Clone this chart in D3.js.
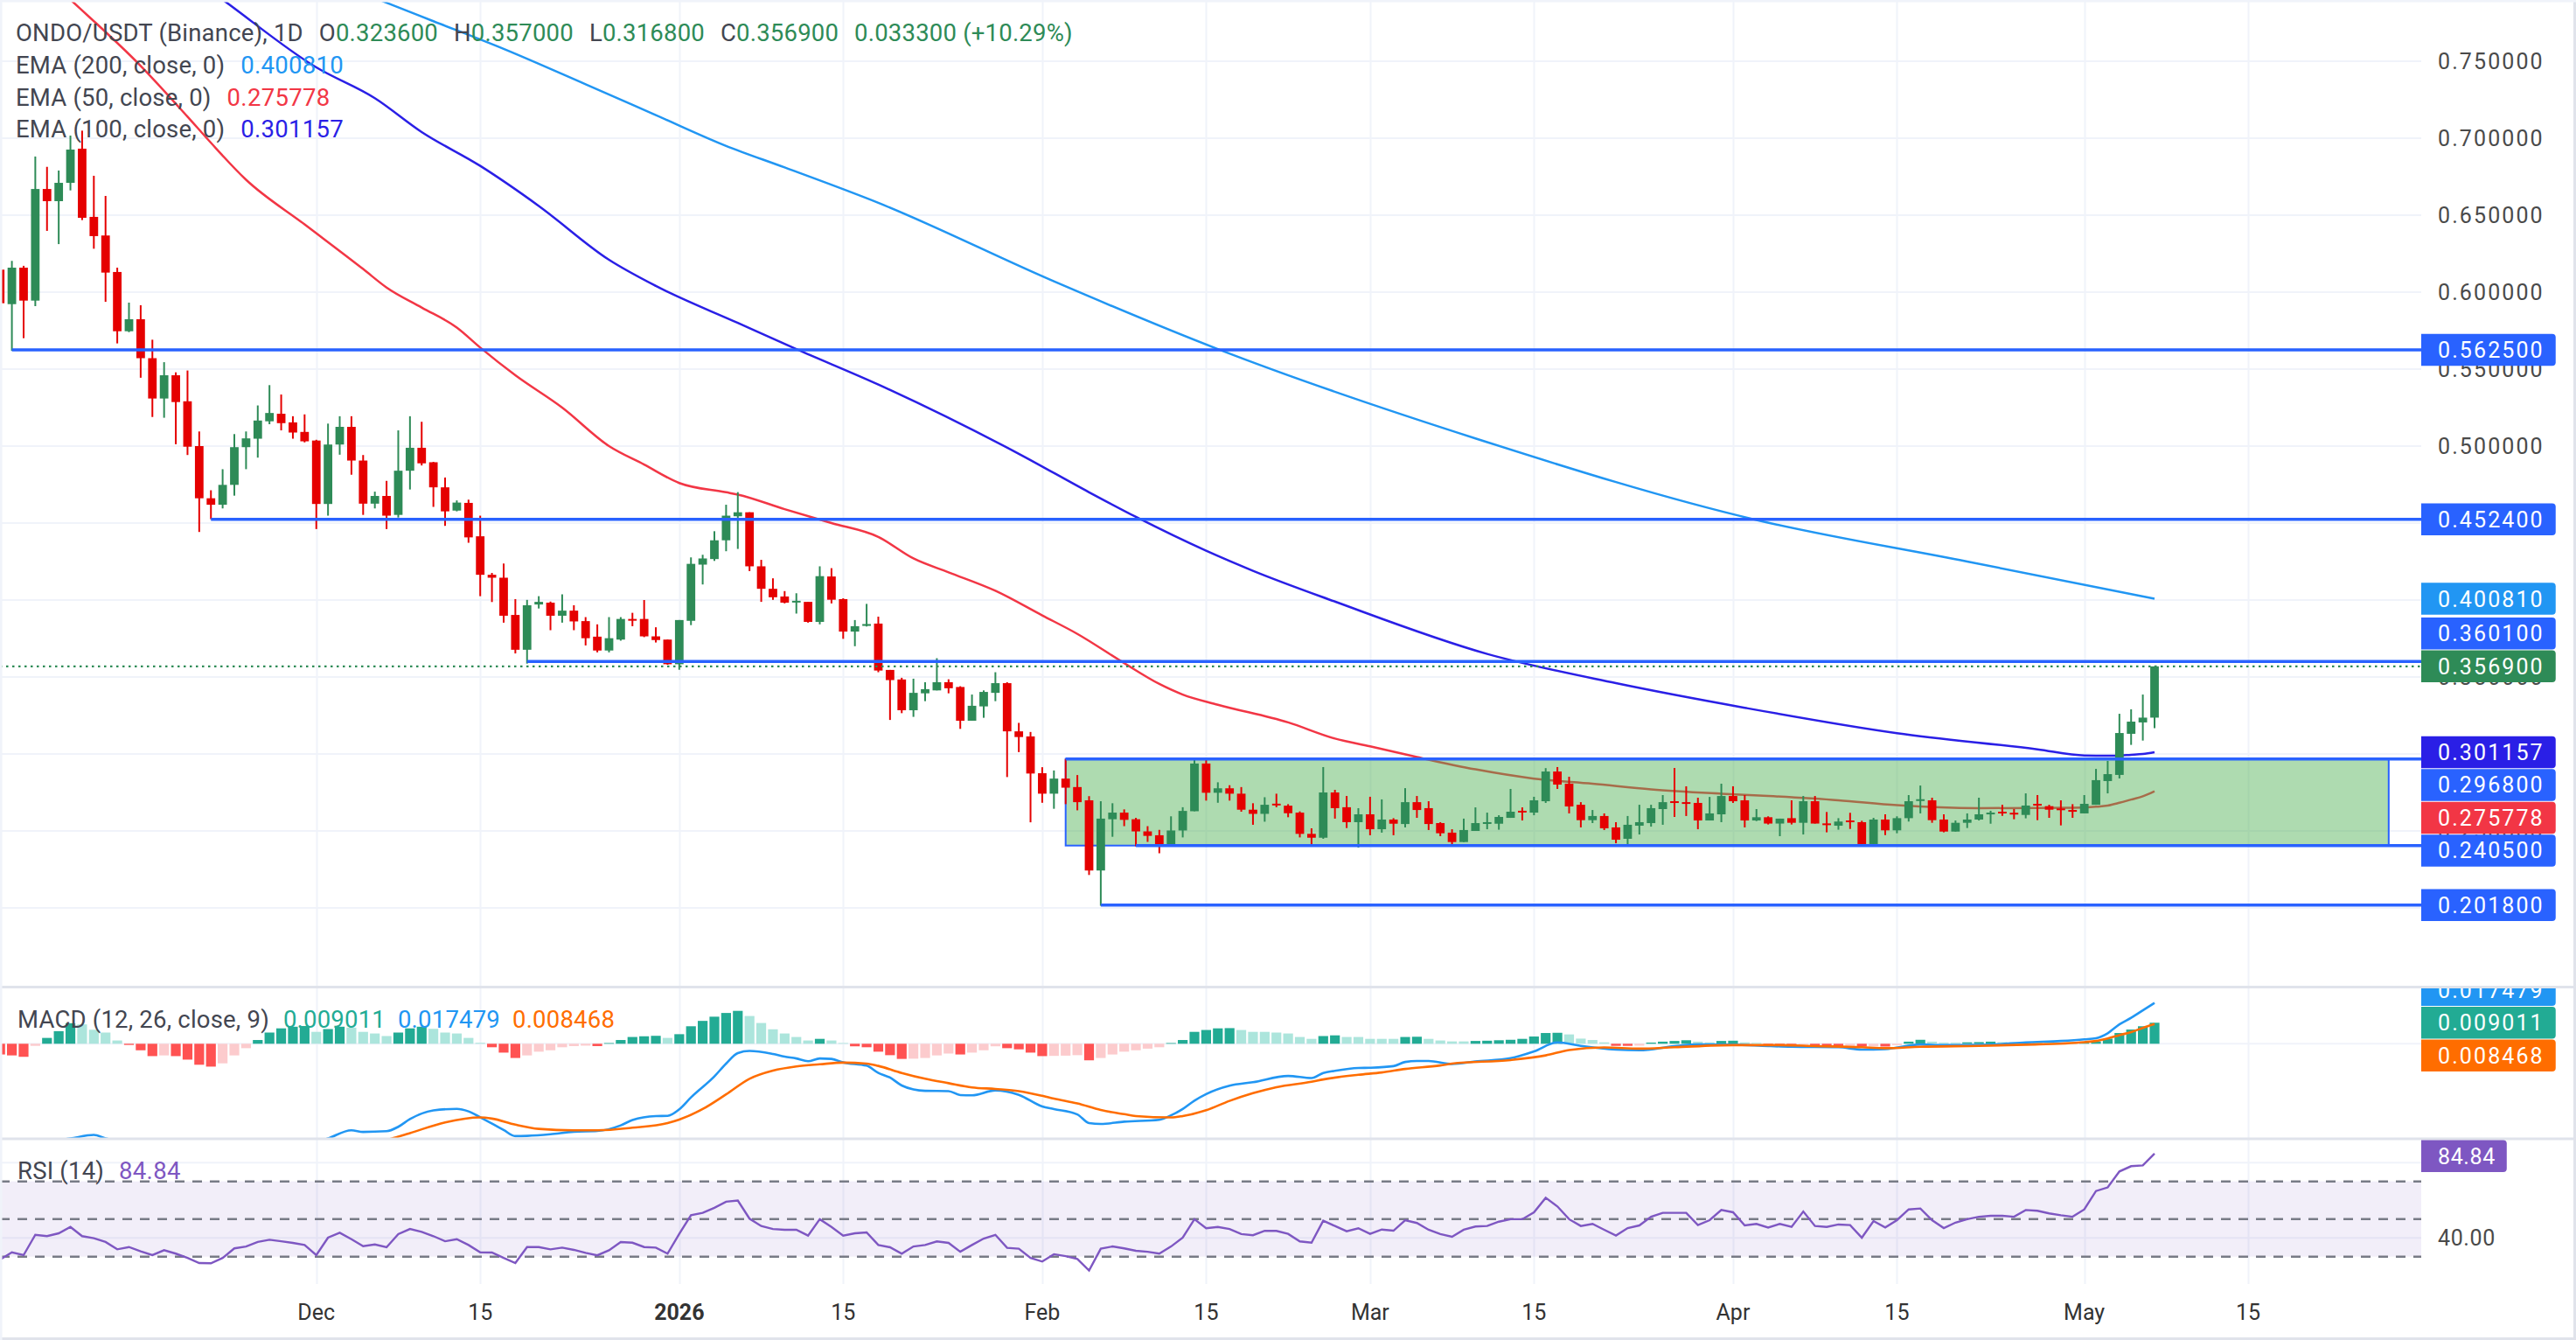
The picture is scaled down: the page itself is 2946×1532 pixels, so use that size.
<!DOCTYPE html>
<html>
<head>
<meta charset="utf-8">
<script src="https://cdn.jsdelivr.net/npm/d3@7"></script>
<style>
  body { margin: 0; background: #fff; }
  svg { display: block; }
  text { font-family: Roboto, "Open Sans", sans-serif; }
</style>
</head>
<body>
<svg id="chart"></svg>
<script>
// ---- data ----
const firstDay = "2025-11-04", lastDay = "2026-05-07";

const opens = [
 .6146,.5922,.6159,.5945,.6670,.6591,.6710,.6932,.6489,.6368, .6131,.5746,.5824,.5571,.5309,.5460,.5291,.5000,.4661,.4619,
 .4748,.4993,.5048,.5161,.5210,.5154,.5092,.5036,.4624,.5010, .5125,.4906,.4626,.4676,.4553,.4840,.4989,.4895,.4732,.4581,
 .4631,.4414,.4164,.4145,.3903,.3677,.3971,.3983,.3898,.3931, .3863,.3762,.3672,.3743,.3877,.3877,.3764,.3743,.3583,.3865,
 .4230,.4266,.4388,.4544,.4570,.4219,.4073,.4023,.3988,.3988, .3858,.4153,.4006,.3795,.3832,.3847,.3546,.3484,.3284,.3394,
 .3413,.3466,.3435,.3216,.3309,.3397,.3460,.3147,.3114,.2875, .2742,.2840,.2785,.2699,.2243,.2576,.2619,.2576,.2497,.2472,
 .2406,.2503,.2628,.2938,.2748,.2777,.2742,.2638,.2611,.2677, .2664,.2619,.2481,.2456,.2750,.2654,.2557,.2608,.2511,.2574,
 .2545,.2687,.2648,.2551,.2489,.2428,.2500,.2551,.2547,.2585, .2631,.2619,.2693,.2886,.2807,.2670,.2570,.2597,.2523,.2449,
 .2534,.2551,.2642,.2693,.2687,.2682,.2568,.2608,.2727,.2699, .2568,.2589,.2548,.2583,.2553,.2693,.2549,.2534,.2568,.2557,
 .2415,.2574,.2504,.2583,.2695,.2699,.2574,.2496,.2553,.2574, .2608,.2625,.2618,.2604,.2676,.2661,.2646,.2636,.2614,.2670,
 .2824,.2864,.3131,.3205,.3236];
const highs = [
 .6288,.6203,.6171,.6881,.6814,.6790,.7017,.7049,.6756,.6625, .6159,.5932,.5915,.5691,.5545,.5479,.5491,.5095,.4713,.4850,
 .5078,.5095,.5264,.5396,.5335,.5194,.5206,.5041,.5146,.5194, .5194,.4942,.4704,.4774,.5102,.5194,.5158,.4897,.4796,.4647,
 .4652,.4548,.4176,.4237,.4006,.4001,.4025,.3990,.4037,.3966, .3889,.3842,.3889,.3889,.3917,.4000,.3823,.3743,.3870,.4277,
 .4294,.4447,.4619,.4701,.4570,.4261,.4141,.4058,.4044,.3988, .4219,.4207,.4011,.3870,.3975,.3892,.3546,.3495,.3489,.3466,
 .3622,.3485,.3440,.3386,.3413,.3531,.3466,.3202,.3143,.2914, .2893,.2967,.2863,.2726,.2693,.2680,.2640,.2585,.2531,.2507,
 .2595,.2654,.2967,.2977,.2816,.2797,.2785,.2680,.2719,.2742, .2674,.2627,.2517,.2915,.2767,.2727,.2648,.2722,.2705,.2583,
 .2778,.2727,.2693,.2557,.2511,.2580,.2653,.2619,.2602,.2773, .2653,.2722,.2908,.2915,.2852,.2687,.2636,.2614,.2557,.2597,
 .2670,.2670,.2733,.2909,.2790,.2716,.2721,.2807,.2790,.2733, .2642,.2595,.2580,.2699,.2727,.2727,.2623,.2583,.2618,.2566,
 .2585,.2608,.2595,.2733,.2795,.2716,.2608,.2568,.2614,.2716, .2631,.2670,.2642,.2744,.2733,.2670,.2699,.2674,.2733,.2903,
 .2955,.3261,.3290,.3386,.3570];
const lows = [
 .5492,.5619,.5701,.5909,.6398,.6312,.6661,.6468,.6282,.5937, .5667,.5740,.5444,.5189,.5184,.5012,.4942,.4442,.4525,.4595,
 .4678,.4850,.4925,.5142,.5102,.5048,.5024,.4461,.4548,.4944, .4814,.4553,.4595,.4461,.4536,.4718,.4874,.4605,.4482,.4576,
 .4372,.4025,.3987,.3853,.3653,.3587,.3945,.3804,.3853,.3804, .3705,.3660,.3660,.3736,.3830,.3759,.3724,.3580,.3547,.3837,
 .4101,.4254,.4317,.4332,.4188,.3988,.4001,.3978,.3912,.3853, .3842,.3978,.3748,.3700,.3828,.3531,.3221,.3265,.3241,.3343,
 .3413,.3394,.3163,.3216,.3235,.3343,.2850,.3012,.2556,.2683, .2644,.2674,.2634,.2214,.2014,.2462,.2531,.2400,.2429,.2355,
 .2406,.2458,.2628,.2697,.2683,.2697,.2625,.2540,.2560,.2654, .2589,.2458,.2414,.2449,.2580,.2519,.2392,.2472,.2489,.2472,
 .2523,.2585,.2506,.2466,.2403,.2428,.2500,.2511,.2508,.2585, .2568,.2602,.2682,.2773,.2614,.2523,.2551,.2506,.2420,.2413,
 .2477,.2528,.2540,.2591,.2597,.2511,.2568,.2557,.2682,.2523, .2564,.2542,.2466,.2542,.2477,.2548,.2491,.2508,.2513,.2409,
 .2409,.2473,.2485,.2561,.2614,.2553,.2491,.2496,.2519,.2568, .2547,.2598,.2576,.2582,.2570,.2585,.2536,.2585,.2614,.2670,
 .2744,.2841,.3059,.3087,.3168];
const closes = [
 .5928,.6159,.5945,.6670,.6591,.6710,.6926,.6483,.6364,.6127, .5746,.5824,.5571,.5309,.5460,.5286,.4996,.4661,.4619,.4748,
 .4993,.5050,.5166,.5215,.5149,.5088,.5031,.4624,.5010,.5125, .4906,.4626,.4676,.4548,.4840,.4989,.4888,.4732,.4576,.4633,
 .4407,.4164,.4145,.3898,.3677,.3966,.3988,.3898,.3931,.3861, .3752,.3672,.3752,.3877,.3870,.3764,.3740,.3583,.3870,.4235,
 .4270,.4388,.4548,.4570,.4219,.4073,.4018,.3983,.3995,.3858, .4155,.4002,.3795,.3830,.3844,.3542,.3480,.3284,.3397,.3421,
 .3466,.3427,.3216,.3313,.3403,.3460,.3147,.3110,.2873,.2742, .2840,.2781,.2687,.2243,.2580,.2619,.2572,.2497,.2468,.2406,
 .2503,.2630,.2938,.2748,.2777,.2742,.2638,.2611,.2670,.2668, .2615,.2481,.2456,.2750,.2648,.2557,.2608,.2511,.2574,.2547,
 .2687,.2636,.2545,.2485,.2428,.2506,.2551,.2557,.2591,.2625, .2621,.2699,.2886,.2801,.2659,.2570,.2597,.2517,.2443,.2540,
 .2557,.2648,.2687,.2682,.2676,.2568,.2614,.2727,.2693,.2568, .2589,.2548,.2580,.2553,.2693,.2548,.2538,.2561,.2561,.2415,
 .2574,.2504,.2583,.2693,.2706,.2570,.2496,.2553,.2574,.2608, .2619,.2618,.2610,.2665,.2669,.2638,.2638,.2627,.2676,.2830,
 .2869,.3136,.3210,.3236,.3569];

// moving averages, read at sampled bars (bar number 1..185)
const ema200Bars = [28, 34, 38, 44, 51, 57, 63, 68, 76, 91, 105, 127, 151, 169, 185];
const ema200Vals = [0.807, 0.788, 0.776, 0.758, 0.735, 0.715, 0.695, 0.681, 0.658, 0.607, 0.563, 0.505, 0.452, 0.425, 0.40081];
const ema100Bars = [16, 20, 28, 33, 37, 42, 47, 53, 57, 64, 69, 76, 88, 94, 98, 104, 108, 115, 128, 139, 150, 163, 175, 179, 181, 183, 184, 185];
const ema100Vals = [0.812, 0.790, 0.746, 0.726, 0.704, 0.682, 0.656, 0.621, 0.604, 0.580, 0.563, 0.540, 0.495, 0.470, 0.454, 0.432, 0.419, 0.399, 0.365, 0.346, 0.330, 0.3135, 0.303, 0.2990, 0.2988, 0.2995, 0.3000, 0.301157];
const ema50Bars = [3, 7, 13, 17, 19, 22, 27, 32, 34, 37, 40, 42, 45, 49, 53, 56, 59, 63, 64, 68, 72, 76, 79, 82, 86, 90, 93, 97, 100, 102, 105, 111, 115, 118, 122, 127, 132, 137, 142, 148, 152, 158, 163, 170, 178, 180, 181, 182, 183, 184, 185];
const ema50Vals = [0.818, 0.790, 0.747, 0.714, 0.697, 0.673, 0.644, 0.615, 0.603, 0.590, 0.577, 0.564, 0.546, 0.525, 0.500, 0.488, 0.476, 0.470, 0.4685, 0.459, 0.450, 0.441, 0.427, 0.418, 0.406, 0.390, 0.378, 0.359, 0.3455, 0.3386, 0.332, 0.3205, 0.310, 0.305, 0.298, 0.290, 0.284, 0.2807, 0.277, 0.2742, 0.2727, 0.2699, 0.2667, 0.2648, 0.2650, 0.2657, 0.2665, 0.2683, 0.2704, 0.2725, 0.275778];

// MACD (12, 26, close, 9)
const histVals = [
 -0.0046,-0.0050,-0.0056,-0.0009,0.0025,0.0054,0.0088,0.0083,0.0060,0.0048, 0.0014,-0.0005,-0.0028,-0.0053,-0.0050,-0.0053,-0.0068,-0.0090,-0.0098,-0.0084,
 -0.0050,-0.0019,0.0016,0.0048,0.0066,0.0073,0.0076,0.0051,0.0063,0.0073, 0.0069,0.0051,0.0044,0.0033,0.0048,0.0066,0.0073,0.0064,0.0048,0.0044,
 0.0025,0.0004,-0.0015,-0.0038,-0.0061,-0.0050,-0.0034,-0.0028,-0.0015,-0.0010, -0.0008,-0.0010,0.0003,0.0016,0.0029,0.0032,0.0034,0.0025,0.0041,0.0075,
 0.0098,0.0116,0.0132,0.0141,0.0119,0.0089,0.0062,0.0044,0.0029,0.0014, 0.0021,0.0014,0.0003,-0.0011,-0.0015,-0.0034,-0.0049,-0.0065,-0.0064,-0.0061,
 -0.0050,-0.0042,-0.0046,-0.0038,-0.0028,-0.0011,-0.0019,-0.0024,-0.0038,-0.0053, -0.0052,-0.0051,-0.0049,-0.0071,-0.0061,-0.0046,-0.0034,-0.0028,-0.0021,-0.0015,
 0.0003,0.0016,0.0051,0.0059,0.0066,0.0067,0.0059,0.0051,0.0051,0.0048, 0.0044,0.0029,0.0021,0.0033,0.0036,0.0029,0.0029,0.0021,0.0021,0.0021,
 0.0029,0.0030,0.0021,0.0014,0.0010,0.0010,0.0012,0.0013,0.0015,0.0017, 0.0021,0.0031,0.0046,0.0047,0.0040,0.0022,0.0016,0.0006,-0.0009,-0.0009,
 -0.0008,0.0005,0.0009,0.0012,0.0015,0.0009,0.0006,0.0012,0.0013,0.0006, 0.0004,-0.0006,-0.0006,-0.0006,-0.0005,-0.0009,-0.0010,-0.0010,-0.0009,-0.0012,
 -0.0011,-0.0012,-0.0006,0.0009,0.0017,0.0009,0.0005,0.0005,0.0006,0.0007, 0.0009,0.0007,0.0006,0.0005,0.0005,0.0004,0.0004,0.0004,0.0006,0.0010,
 0.0022,0.0046,0.0061,0.0075,0.009011];
const macdBars = [1,5,7,9,10,12,20,27,29,31,32,34,35,36,38,40,41,42,44,45,46,48,50,52,54,55,57,58,59,60,62,63,64,65,67,68,69,70,71,72,73,75,76,77,78,79,80,82,83,84,86,88,90,91,93,94,95,97,100,101,102,103,104,106,108,111,113,114,115,117,118,120,121,122,123,125,127,130,132,134,136,139,141,144,146,149,152,154,158,160,162,165,167,171,174,177,179,180,181,182,183,184,185];
const macdVals = [-0.046,-0.042,-0.0406,-0.0391,-0.0406,-0.042,-0.052,-0.044,-0.0406,-0.0371,-0.0378,-0.0375,-0.0356,-0.0323,-0.0286,-0.0279,-0.0290,-0.0315,-0.0370,-0.0396,-0.0395,-0.0388,-0.0377,-0.0374,-0.0350,-0.0327,-0.0310,-0.0309,-0.0281,-0.0230,-0.0140,-0.0085,-0.0040,-0.0031,-0.0044,-0.0055,-0.0063,-0.0075,-0.0063,-0.0065,-0.0080,-0.0094,-0.0125,-0.0145,-0.0179,-0.0196,-0.0202,-0.0203,-0.0220,-0.0221,-0.0200,-0.0219,-0.0269,-0.0280,-0.0303,-0.0340,-0.0344,-0.0334,-0.0326,-0.0307,-0.0280,-0.0244,-0.0216,-0.0180,-0.0165,-0.0138,-0.0147,-0.0125,-0.0116,-0.0104,-0.0103,-0.0096,-0.0078,-0.0074,-0.0074,-0.0087,-0.0076,-0.0062,-0.0033,0.0006,-0.0009,-0.0025,-0.0028,-0.0010,-0.0003,-0.0004,-0.0010,-0.0013,-0.0015,-0.0025,-0.0023,-0.0003,-0.0006,-0.0004,0.0006,0.0012,0.0019,0.0024,0.0045,0.0083,0.0111,0.0143,0.017479];
const signalBars = [1,15,30,33,35,36,39,42,43,45,47,50,52,55,58,59,61,63,65,67,69,71,73,75,76,78,80,82,84,86,88,90,91,93,95,97,98,101,102,104,106,108,110,113,114,117,119,121,124,125,130,133,135,138,141,144,149,153,156,160,162,165,170,174,179,180,181,182,183,184,185];
const signalVals = [-0.047,-0.046,-0.044,-0.0425,-0.0398,-0.0383,-0.0337,-0.0316,-0.0321,-0.0347,-0.0365,-0.0371,-0.0371,-0.0360,-0.0340,-0.0325,-0.0280,-0.0217,-0.0150,-0.0115,-0.0097,-0.0088,-0.0081,-0.0085,-0.0095,-0.0125,-0.0150,-0.0169,-0.0187,-0.0194,-0.0203,-0.0223,-0.0235,-0.0256,-0.0284,-0.0302,-0.0310,-0.0316,-0.0310,-0.0285,-0.0245,-0.0212,-0.0186,-0.0163,-0.0153,-0.0133,-0.0123,-0.0108,-0.0093,-0.0085,-0.0070,-0.0050,-0.0027,-0.0016,-0.0021,-0.0015,-0.0006,-0.0006,-0.0010,-0.0015,-0.0019,-0.0013,-0.0009,-0.0004,0.0007,0.0012,0.0023,0.0037,0.0050,0.0068,0.008468];

// RSI (14)
const rsiVals = [
 28.5,32.3,30.8,41.6,40.9,42.4,45.8,40.9,39.8,37.8, 33.9,35.1,32.8,30.8,33.4,31.6,29.3,26.6,26.5,29.3,
 34.4,35.4,37.8,39.0,38.2,37.3,36.2,30.8,40.1,42.7, 39.3,35.6,36.5,35.0,42.0,44.7,43.2,40.9,38.2,39.3,
 36.2,32.3,32.2,29.3,26.6,35.1,35.1,33.9,34.8,33.6, 32.0,30.7,33.4,37.8,37.4,35.1,34.8,31.6,42.1,52.0,
 53.3,56.0,59.2,59.8,50.2,46.3,44.7,44.3,44.3,41.2, 49.9,45.8,41.2,42.4,42.9,36.2,35.0,31.6,35.4,36.2,
 38.1,37.3,32.6,36.2,39.6,41.6,34.7,34.2,29.3,27.4, 31.3,30.3,28.8,22.6,34.2,35.4,34.4,33.1,32.6,31.6,
 35.4,40.1,49.9,45.1,45.8,44.7,42.0,41.4,43.7,43.7, 42.1,38.1,37.4,49.1,46.3,43.5,45.1,42.1,44.4,43.8,
 49.4,47.9,44.3,42.0,40.6,44.3,46.0,46.3,48.6,49.9, 49.9,53.6,61.3,56.7,49.9,46.3,47.4,44.3,41.2,45.2,
 46.6,51.2,53.3,53.3,53.3,46.8,49.4,54.8,53.6,46.6, 47.4,45.5,47.4,45.8,54.0,46.3,45.8,47.1,46.8,40.1,
 48.9,45.5,49.4,55.1,55.6,49.4,45.2,48.1,49.9,51.2, 51.7,51.7,51.2,54.8,54.4,53.0,52.0,51.2,55.1,64.9,
 66.8,75.3,78.1,78.5,84.84];

// drawings
const levelPrices = [0.5625, 0.4524, 0.3601, 0.2968, 0.2405, 0.2018];
const levelStartBar = [2, 19, 46, 92, 98, 95];
const zoneTop = 0.2968, zoneBottom = 0.2405, zoneStartBar = 92, zoneEndDay = "2026-05-27";

const priceTicks = [0.20, 0.25, 0.30, 0.35, 0.40, 0.45, 0.50, 0.55, 0.60, 0.65, 0.70, 0.75];
const rsiTicks = [80, 40];
const timeTickDays = ["2025-11-03","2025-12-01","2025-12-15","2026-01-01","2026-01-15","2026-02-01","2026-02-15","2026-03-01","2026-03-15","2026-04-01","2026-04-15","2026-05-01","2026-05-15"];
const timeTickLabels = ["4","Dec","15","2026","15","Feb","15","Mar","15","Apr","15","May","15"];

// ---- layout ----
const W = 2946, H = 1532, plotRight = 2769;
const pricePane = [0, 1127], macdPane = [1130, 1301], rsiPane = [1303, 1468];
const up = "#2e8b57", down = "#e50000";
const gray = "#434651";

const svg = d3.select("#chart").attr("width", W).attr("height", H);
svg.append("rect").attr("width", W).attr("height", H).attr("fill", "#fff");

const parse = d3.utcParse("%Y-%m-%d");
const dates = d3.utcDay.range(parse(firstDay), d3.utcDay.offset(parse(lastDay), 1));
const bar = n => dates[n - 1];

const x = d3.scaleUtc().domain([dates[0], dates[dates.length - 1]]).range([0.2, 2464]);
const y = d3.scaleLinear().domain([0.2, 0.75]).range([1038, 70]);
const yM = d3.scaleLinear().domain([0, 0.009]).range([1193.3, 1169.3]);
const yR = d3.scaleLinear().domain([30, 70]).range([1436.7, 1350.7]);

const defs = svg.append("defs");
function clip(id, x0, y0, w, h) {
  defs.append("clipPath").attr("id", id).append("rect").attr("x", x0).attr("y", y0).attr("width", w).attr("height", h);
}
clip("cPrice", 0, pricePane[0], plotRight, pricePane[1] - pricePane[0]);
clip("cMacd", 0, macdPane[0], plotRight, macdPane[1] - macdPane[0]);
clip("cRsi", 0, rsiPane[0], plotRight, rsiPane[1] - rsiPane[0]);
clip("cMacdAxis", plotRight, macdPane[0], W - plotRight, macdPane[1] - macdPane[0]);

// grid
const grid = svg.append("g").attr("stroke", "#f0f3fa").attr("stroke-width", 2);
timeTickDays.forEach(d => {
  const xx = Math.round(x(parse(d))) + 0.5;
  grid.append("line").attr("x1", xx).attr("x2", xx).attr("y1", 0).attr("y2", rsiPane[1]);
});
priceTicks.forEach(p => grid.append("line").attr("x1", 0).attr("x2", plotRight).attr("y1", y(p)).attr("y2", y(p)));
grid.append("line").attr("x1", 0).attr("x2", plotRight).attr("y1", yM(0)).attr("y2", yM(0));
rsiTicks.forEach(v => grid.append("line").attr("x1", 0).attr("x2", plotRight).attr("y1", yR(v)).attr("y2", yR(v)));

// RSI band
svg.append("rect").attr("x", 0).attr("width", plotRight).attr("y", yR(70)).attr("height", yR(30) - yR(70))
  .attr("fill", "#7e57c2").attr("fill-opacity", 0.1);

// EMAs
const gPrice = svg.append("g").attr("clip-path", "url(#cPrice)");
function sampled(bars, vals) { return bars.map((b, i) => [bar(b), vals[i]]); }
const emaLine = d3.line().x(d => x(d[0])).y(d => y(d[1])).curve(d3.curveMonotoneX);
[[ema200Bars, ema200Vals, "#2196f3"], [ema100Bars, ema100Vals, "#2a1fe6"], [ema50Bars, ema50Vals, "#f23645"]]
  .forEach(([b, v, c]) => gPrice.append("path").attr("d", emaLine(sampled(b, v)))
    .attr("fill", "none").attr("stroke", c).attr("stroke-width", 2.5));

// zone
gPrice.append("rect")
  .attr("x", x(bar(zoneStartBar))).attr("width", x(parse(zoneEndDay)) - x(bar(zoneStartBar)))
  .attr("y", y(zoneTop)).attr("height", y(zoneBottom) - y(zoneTop))
  .attr("fill", "#4caf50").attr("fill-opacity", 0.45).attr("stroke", "#2962ff").attr("stroke-width", 2);

// candles
const candles = dates.map((d, i) => ({ d, o: opens[i], h: highs[i], l: lows[i], c: closes[i] }));
const bodyW = 9.8;
gPrice.append("g").selectAll("line").data(candles).join("line")
  .attr("x1", d => x(d.d)).attr("x2", d => x(d.d))
  .attr("y1", d => y(d.h)).attr("y2", d => y(d.l))
  .attr("stroke", d => d.c >= d.o ? up : down).attr("stroke-width", 2);
gPrice.append("g").selectAll("rect").data(candles).join("rect")
  .attr("x", d => x(d.d) - bodyW / 2).attr("width", bodyW)
  .attr("y", d => y(Math.max(d.o, d.c)))
  .attr("height", d => Math.max(2, Math.abs(y(d.o) - y(d.c))))
  .attr("fill", d => d.c >= d.o ? up : down);

// levels
levelPrices.forEach((p, i) => {
  gPrice.append("line").attr("x1", x(bar(levelStartBar[i]))).attr("x2", plotRight)
    .attr("y1", y(p)).attr("y2", y(p)).attr("stroke", "#2962ff").attr("stroke-width", 3.5);
});
const lastClose = closes[closes.length - 1];
gPrice.append("line").attr("x1", 0).attr("x2", plotRight).attr("y1", y(lastClose)).attr("y2", y(lastClose))
  .attr("stroke", up).attr("stroke-width", 2.2).attr("stroke-dasharray", "2.5,4.5");

// MACD pane
const gM = svg.append("g").attr("clip-path", "url(#cMacd)");
const histColor = (v, i) => {
  const prev = i > 0 ? histVals[i - 1] : (v >= 0 ? -Infinity : Infinity);
  if (v >= 0) return prev < v ? "#22ab94" : "#ace5dc";
  return prev < v ? "#fccbcd" : "#ff5252";
};
gM.selectAll("rect").data(histVals).join("rect")
  .attr("x", (v, i) => x(dates[i]) - 5.6).attr("width", 11.2)
  .attr("y", v => Math.min(yM(v), yM(0))).attr("height", v => Math.abs(yM(v) - yM(0)))
  .attr("fill", histColor);
const mLine = d3.line().x(d => x(d[0])).y(d => yM(d[1])).curve(d3.curveMonotoneX);
gM.append("path").attr("d", mLine(sampled(macdBars, macdVals))).attr("fill", "none").attr("stroke", "#2196f3").attr("stroke-width", 2.6);
gM.append("path").attr("d", mLine(sampled(signalBars, signalVals))).attr("fill", "none").attr("stroke", "#ff6d00").attr("stroke-width", 2.6);

// RSI pane
const gR = svg.append("g").attr("clip-path", "url(#cRsi)");
[70, 50, 30].forEach(v => gR.append("line").attr("x1", 0).attr("x2", plotRight).attr("y1", yR(v)).attr("y2", yR(v))
  .attr("stroke", "#787b86").attr("stroke-width", 2.4).attr("stroke-dasharray", "11,9"));
gR.append("path").attr("d", d3.line().x((v, i) => x(dates[i])).y(v => yR(v))(rsiVals))
  .attr("fill", "none").attr("stroke", "#7e57c2").attr("stroke-width", 2.4);

// separators & borders
const sep = svg.append("g").attr("stroke", "#e0e3eb").attr("stroke-width", 3);
sep.append("line").attr("x1", 0).attr("x2", W).attr("y1", 1128.5).attr("y2", 1128.5);
sep.append("line").attr("x1", 0).attr("x2", W).attr("y1", 1302).attr("y2", 1302);
sep.append("line").attr("x1", W - 1.5).attr("x2", W - 1.5).attr("y1", 0).attr("y2", H);
sep.append("line").attr("x1", 0).attr("x2", W).attr("y1", H - 1.5).attr("y2", H - 1.5);
sep.append("line").attr("x1", 0).attr("x2", W).attr("y1", 1).attr("y2", 1).attr("stroke", "#f0f3fa");
sep.append("line").attr("x1", 1).attr("x2", 1).attr("y1", 0).attr("y2", H).attr("stroke", "#f0f3fa");

// axis tick labels
const axisText = svg.append("g").attr("font-size", 25).attr("letter-spacing", 2.1).attr("fill", "#4a4a4a");
priceTicks.forEach(p => axisText.append("text").attr("x", 2788).attr("y", y(p)).attr("dy", "0.36em").text(p.toFixed(6)));
rsiTicks.forEach(v => axisText.append("text").attr("x", 2788).attr("y", yR(v)).attr("dy", "0.36em").attr("letter-spacing", 0.6).text(v.toFixed(2)));

// colored value labels on the axis
const labelH = 37.5;
function stack(items, fixedIdx) {
  items.forEach(d => d.ly = d.y);
  for (let i = fixedIdx - 1; i >= 0; i--) items[i].ly = Math.min(items[i].y, items[i + 1].ly - labelH);
  for (let i = fixedIdx + 1; i < items.length; i++) items[i].ly = Math.max(items[i].y, items[i - 1].ly + labelH);
  return items;
}
function drawLabels(items, parent, ls) {
  items.forEach(d => {
    const g = parent.append("g");
    const t = g.append("text").attr("x", 2788).attr("y", d.ly).attr("dy", "0.36em")
      .attr("font-size", 25).attr("letter-spacing", ls).attr("fill", "#fff").text(d.text);
    const w = t.node().getComputedTextLength() + 19 + 13;
    g.insert("path", "text").attr("fill", d.color)
      .attr("d", `M${plotRight},${d.ly - labelH / 2 + 0.5}h${w - 4}q4,0 4,4v${labelH - 9}q0,4 -4,4h${-(w - 4)}z`);
  });
}
const fmt = d3.format(".6f");
const priceLabels = [
  ...levelPrices.map(p => ({ v: p, color: "#2962ff" })),
  { v: ema200Vals[ema200Vals.length - 1], color: "#2196f3" },
  { v: ema100Vals[ema100Vals.length - 1], color: "#2a1fe6" },
  { v: ema50Vals[ema50Vals.length - 1], color: "#f23645" },
  { v: lastClose, color: up, fixed: true }
].map(d => ({ ...d, y: y(d.v), text: fmt(d.v) })).sort((a, b) => a.y - b.y);
drawLabels(stack(priceLabels, priceLabels.findIndex(d => d.fixed)), svg, 2.1);

const macdLabels = [
  { v: macdVals[macdVals.length - 1], color: "#2196f3" },
  { v: histVals[histVals.length - 1], color: "#22ab94", fixed: true },
  { v: signalVals[signalVals.length - 1], color: "#ff6d00" }
].map(d => ({ ...d, y: yM(d.v), text: fmt(d.v) })).sort((a, b) => a.y - b.y);
drawLabels(stack(macdLabels, macdLabels.findIndex(d => d.fixed)), svg.append("g").attr("clip-path", "url(#cMacdAxis)"), 2.1);

const rsiLast = rsiVals[rsiVals.length - 1];
drawLabels([{ ly: Math.max(yR(rsiLast), rsiPane[0] + labelH / 2), text: rsiLast.toFixed(2), color: "#7e57c2" }], svg, 0.6);

// time axis
const tAxis = svg.append("g").attr("font-size", 25).attr("fill", "#333").attr("text-anchor", "middle");
timeTickDays.forEach((d, i) => {
  tAxis.append("text").attr("x", x(parse(d))).attr("y", 1500).attr("dy", "0.36em")
    .attr("font-weight", timeTickLabels[i] === "2026" ? 700 : 400).text(timeTickLabels[i]);
});

// legends
function legendRow(x0, y0, parts) {
  const t = svg.append("text").attr("x", x0).attr("y", y0).attr("dy", "0.36em").attr("font-size", 27.5);
  parts.forEach(p => t.append("tspan").attr("dx", p.gap || 0).attr("fill", p.color || gray)
    .attr("letter-spacing", p.ls == null ? 0.2 : p.ls).text(p.text));
}
const n = closes.length;
const chg = closes[n - 1] - closes[n - 2];
const pct = d3.format("+.2f")(chg / closes[n - 2] * 100);
legendRow(18, 37, [
  { text: "ONDO/USDT (Binance), 1D" },
  { text: "O", gap: 18 }, { text: fmt(opens[n - 1]), color: up, ls: 0.2 },
  { text: "H", gap: 18 }, { text: fmt(highs[n - 1]), color: up, ls: 0.2 },
  { text: "L", gap: 18 }, { text: fmt(lows[n - 1]), color: up, ls: 0.2 },
  { text: "C", gap: 18 }, { text: fmt(closes[n - 1]), color: up, ls: 0.2 },
  { text: fmt(chg) + " (" + pct + "%)", color: up, gap: 18, ls: 0.2 }
]);
legendRow(18, 74, [{ text: "EMA (200, close, 0)" }, { text: fmt(ema200Vals[ema200Vals.length - 1]), color: "#2196f3", gap: 18, ls: 0.3 }]);
legendRow(18, 111, [{ text: "EMA (50, close, 0)" }, { text: fmt(ema50Vals[ema50Vals.length - 1]), color: "#f23645", gap: 18, ls: 0.3 }]);
legendRow(18, 147, [{ text: "EMA (100, close, 0)" }, { text: fmt(ema100Vals[ema100Vals.length - 1]), color: "#2a1fe6", gap: 18, ls: 0.3 }]);
legendRow(20, 1165, [
  { text: "MACD (12, 26, close, 9)" },
  { text: fmt(histVals[n - 1]), color: "#22ab94", gap: 16, ls: 0.2 },
  { text: fmt(macdVals[macdVals.length - 1]), color: "#2196f3", gap: 14, ls: 0.2 },
  { text: fmt(signalVals[signalVals.length - 1]), color: "#ff6d00", gap: 14, ls: 0.2 }
]);
legendRow(20, 1338, [{ text: "RSI (14)" }, { text: rsiLast.toFixed(2), color: "#7e57c2", gap: 17, ls: 0.3 }]);
</script>
</body>
</html>
